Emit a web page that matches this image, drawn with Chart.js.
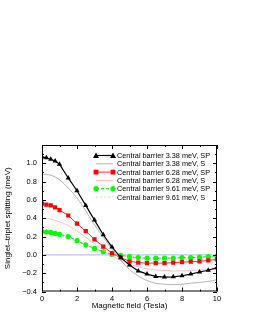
<!DOCTYPE html>
<html>
<head>
<meta charset="utf-8">
<script src="https://cdn.jsdelivr.net/npm/chart.js@4"></script>
<style>
  html, body { margin: 0; padding: 0; background: #fff; }
  #wrap { width: 253px; height: 327px; }
</style>
</head>
<body>
<div id="wrap"><canvas id="myChart"></canvas></div>
<script>
// field values (Tesla)
const fieldSP = [0, 0.25, 0.5, 0.75, 1, 1.5, 2, 2.5, 3, 3.5, 4, 4.5, 5, 5.5, 6, 6.5, 7, 7.5, 8, 8.5, 9, 9.5, 10]
const fieldS = [0, 0.5, 1, 1.5, 2, 2.5, 3, 3.5, 4, 4.5, 5, 5.5, 6, 6.5, 7, 7.5, 8, 8.5, 9, 9.5, 10]

// splitting (meV)
const sp338 = [1.07, 1.06, 1.045, 1.025, 0.99, 0.84, 0.70, 0.54, 0.38, 0.22, 0.085, -0.03, -0.11, -0.175, -0.21, -0.235, -0.243, -0.24, -0.228, -0.21, -0.187, -0.168, -0.14]
const s338 = [0.88, 0.87, 0.82, 0.73, 0.62, 0.48, 0.33, 0.19, 0.06, -0.06, -0.16, -0.23, -0.28, -0.31, -0.32, -0.325, -0.32, -0.31, -0.30, -0.29, -0.27]
const sp628 = [0.56, 0.55, 0.54, 0.52, 0.49, 0.43, 0.34, 0.26, 0.17, 0.09, 0.02, -0.03, -0.07, -0.085, -0.09, -0.09, -0.09, -0.085, -0.08, -0.075, -0.07, -0.06, -0.05]
const s628 = [0.40, 0.39, 0.36, 0.32, 0.26, 0.19, 0.12, 0.05, -0.01, -0.06, -0.10, -0.13, -0.15, -0.165, -0.17, -0.175, -0.175, -0.17, -0.165, -0.16, -0.155]
const sp961 = [0.255, 0.25, 0.245, 0.235, 0.225, 0.20, 0.155, 0.11, 0.07, 0.035, 0.005, -0.005, -0.02, -0.03, -0.035, -0.035, -0.035, -0.035, -0.03, -0.03, -0.025, -0.02, -0.01]
const s961 = [0.24, 0.235, 0.215, 0.185, 0.145, 0.10, 0.06, 0.025, -0.005, -0.025, -0.04, -0.05, -0.055, -0.06, -0.06, -0.06, -0.06, -0.055, -0.05, -0.05, -0.045]

const seriesNames = ['Central barrier 3.38 meV, SP', 'Central barrier 3.38 meV, S',
  'Central barrier 6.28 meV, SP', 'Central barrier 6.28 meV, S',
  'Central barrier 9.61 meV, SP', 'Central barrier 9.61 meV, S']

const yTicks = [-0.4, -0.2, 0, 0.2, 0.4, 0.6, 0.8, 1.0]
const xTicks = [0, 2, 4, 6, 8, 10]

const pts = (xs, ys) => xs.map((x, i) => ({ x: x, y: ys[i] }))
const fontFam = "'Liberation Sans', Arial, sans-serif"

// inner ticks, frame and legend box
const decor = {
  id: 'decor',
  afterDraw(chart) {
    const ctx = chart.ctx
    const a = chart.chartArea
    const xs = chart.scales.x, ys = chart.scales.y
    ctx.save()
    ctx.strokeStyle = '#000'
    ctx.lineWidth = 1
    ctx.strokeRect(a.left + 0.5, a.top + 0.5, a.right - a.left - 1, a.bottom - a.top - 1)
    ctx.beginPath()
    for (let i = -4; i <= 12; i++) {
      const py = Math.round(ys.getPixelForValue(i / 10)) + 0.5
      const len = i % 2 === 0 ? 4 : 2
      ctx.moveTo(a.left, py); ctx.lineTo(a.left + len, py)
      ctx.moveTo(a.right, py); ctx.lineTo(a.right - len, py)
    }
    for (let i = 0; i <= 10; i++) {
      const px = Math.round(xs.getPixelForValue(i)) + 0.5
      const len = i % 2 === 0 ? 4 : 2
      ctx.moveTo(px, a.bottom); ctx.lineTo(px, a.bottom - len)
      ctx.moveTo(px, a.top); ctx.lineTo(px, a.top + len)
    }
    ctx.stroke()

    // legend
    const lx0 = 96, lx1 = 113, tx = 117
    chart.data.datasets.forEach((ds, i) => {
      if (!ds.label) return
      const y = 155.5 + i * 8.3
      ctx.save()
      ctx.strokeStyle = ds.borderColor
      ctx.lineWidth = ds.borderWidth
      ctx.setLineDash(ds.borderDash || [])
      ctx.beginPath(); ctx.moveTo(lx0, y); ctx.lineTo(lx1, y); ctx.stroke()
      ctx.restore()
      if (ds.pointRadius > 0) {
        [lx0, lx1].forEach(px => drawMark(ctx, ds.pointStyle, px, y, ds.pointRadius, ds.pointBackgroundColor))
      }
      ctx.fillStyle = '#000'
      ctx.font = '7.3px ' + fontFam
      ctx.textBaseline = 'middle'
      ctx.fillText(ds.label, tx, y + 0.5)
    })
    ctx.restore()
  }
}

function drawMark(ctx, style, x, y, r, color) {
  ctx.fillStyle = color
  ctx.beginPath()
  if (style === 'triangle') {
    ctx.moveTo(x, y - r); ctx.lineTo(x + r, y + r * 0.8); ctx.lineTo(x - r, y + r * 0.8)
  } else if (style === 'rect') {
    ctx.rect(x - r * 0.8, y - r * 0.8, r * 1.6, r * 1.6)
  } else {
    ctx.arc(x, y, r, 0, Math.PI * 2)
  }
  ctx.closePath()
  ctx.fill()
}

new Chart(document.getElementById('myChart'), {
  type: 'line',
  data: {
    datasets: [
      { label: seriesNames[0], data: pts(fieldSP, sp338), borderColor: '#000', borderWidth: 1.2, pointStyle: 'triangle', pointRadius: 3, pointBackgroundColor: '#000', pointBorderWidth: 0 },
      { label: seriesNames[1], data: pts(fieldS, s338), borderColor: '#a0a0a0', borderWidth: 0.8, pointRadius: 0, tension: 0.4 },
      { label: seriesNames[2], data: pts(fieldSP, sp628), borderColor: '#ff3030', borderWidth: 1, pointStyle: 'rect', pointRadius: 3, pointBackgroundColor: '#ff0000', pointBorderWidth: 0 },
      { label: seriesNames[3], data: pts(fieldS, s628), borderColor: '#ffb0b0', borderWidth: 0.8, pointRadius: 0, tension: 0.4 },
      { label: seriesNames[4], data: pts(fieldSP, sp961), borderColor: '#00dd00', borderWidth: 1, borderDash: [3, 2], pointStyle: 'circle', pointRadius: 2.6, pointBackgroundColor: '#00ff00', pointBorderWidth: 0 },
      { label: seriesNames[5], data: pts(fieldS, s961), borderColor: '#a0f0a0', borderWidth: 0.8, borderDash: [2, 2], pointRadius: 0, tension: 0.4 },
      { label: '', data: [{ x: 0, y: 0 }, { x: 10, y: 0 }], borderColor: '#b0b0ff', borderWidth: 1, pointRadius: 0 }
    ]
  },
  options: {
    responsive: true,
    maintainAspectRatio: false,
    animation: false,
    layout: { padding: { top: 145, right: 36, bottom: 16, left: 0 } },
    scales: {
      x: {
        type: 'linear', min: 0, max: 10,
        afterFit: s => { s.height = 19.5 },
        afterBuildTicks: s => { s.ticks = xTicks.map(v => ({ value: v })) },
        grid: { display: false, drawTicks: false },
        border: { display: false },
        ticks: { color: '#000', padding: 3, font: { size: 7.5, family: fontFam }, callback: v => String(v) },
        title: { display: true, text: 'Magnetic field (Tesla)', color: '#000', padding: 0, font: { size: 8, family: fontFam } }
      },
      y: {
        type: 'linear', min: -0.4, max: 1.2,
        afterFit: s => { s.width = 42 },
        afterBuildTicks: s => { s.ticks = yTicks.map(v => ({ value: v })) },
        grid: { display: false, drawTicks: false },
        border: { display: false },
        ticks: { color: '#000', padding: 5, font: { size: 7.5, family: fontFam },
          callback: v => Math.abs(v) < 1e-9 ? '0.0' : (v < 0 ? '\u2212' + Math.abs(v).toFixed(1) : v.toFixed(1)) },
        title: { display: true, text: 'Singlet\u2013triplet splitting (meV)', color: '#000', padding: { top: 3, bottom: 0 }, font: { size: 8, family: fontFam } }
      }
    },
    plugins: { legend: { display: false }, tooltip: { enabled: false } }
  },
  plugins: [decor]
})
</script>
</body>
</html>
